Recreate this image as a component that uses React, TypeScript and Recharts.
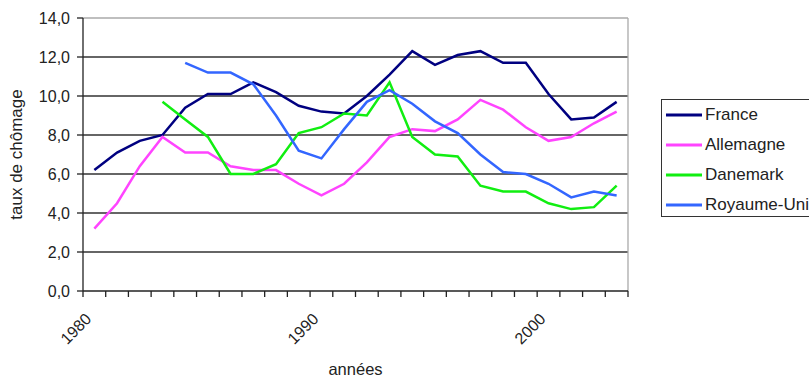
import React from 'react';
import { LineChart, Line, XAxis, YAxis, CartesianGrid, ReferenceLine, Legend } from 'recharts';

const years = [1980, 1981, 1982, 1983, 1984, 1985, 1986, 1987, 1988, 1989, 1990, 1991, 1992, 1993, 1994, 1995, 1996, 1997, 1998, 1999, 2000, 2001, 2002, 2003];
const france = [6.2, 7.1, 7.7, 8.0, 9.4, 10.1, 10.1, 10.7, 10.2, 9.5, 9.2, 9.1, 10.0, 11.1, 12.3, 11.6, 12.1, 12.3, 11.7, 11.7, 10.1, 8.8, 8.9, 9.7];
const allemagne = [3.2, 4.5, 6.4, 7.9, 7.1, 7.1, 6.4, 6.2, 6.2, 5.5, 4.9, 5.5, 6.6, 7.9, 8.3, 8.2, 8.8, 9.8, 9.3, 8.4, 7.7, 7.9, 8.6, 9.2];
const danemark = [null, null, null, 9.7, 8.8, 7.9, 6.0, 6.0, 6.5, 8.1, 8.4, 9.1, 9.0, 10.7, 7.9, 7.0, 6.9, 5.4, 5.1, 5.1, 4.5, 4.2, 4.3, 5.4];
const royaumeUni = [null, null, null, null, 11.7, 11.2, 11.2, 10.6, 9.0, 7.2, 6.8, 8.3, 9.7, 10.3, 9.6, 8.7, 8.1, 7.0, 6.1, 6.0, 5.5, 4.8, 5.1, 4.9];

const seriesNames = ['France', 'Allemagne', 'Danemark', 'Royaume-Uni'];
const yTicks = [0, 2, 4, 6, 8, 10, 12, 14];
const gridValues = [2, 4, 6, 8, 10, 12];
const labeledYears = [1980, 1990, 2000];

const FONT = '"Liberation Sans", Arial, sans-serif';

const data = years.map((year, i) => ({
  x: i,
  year,
  france: france[i],
  allemagne: allemagne[i],
  danemark: danemark[i],
  royaumeUni: royaumeUni[i],
}));

const xTicks = [...years.map((_, i) => i - 0.5), years.length - 0.5];

const XTick = (props: any) => {
  const { x, y, payload } = props;
  const idx = Math.round(payload.value + 0.5);
  const year = years[idx];
  if (!labeledYears.includes(year)) return <g />;
  const w = typeof props.width === 'number' ? props.width : 545;
  const cx = x + w / (2 * years.length) - 2;
  const cy = y + 21;
  return (
    <text x={cx} y={cy} textAnchor="end" fontSize={16} fontFamily={FONT} fill="#222" transform={`rotate(-45 ${cx} ${cy})`}>
      {year}
    </text>
  );
};

const YTick = (props: any) => {
  const { x, y, payload } = props;
  return (
    <text x={x} y={y} dy={5.5} textAnchor="end" fontSize={16} fontFamily={FONT} fill="#222">
      {payload.value.toFixed(1).replace('.', ',')}
    </text>
  );
};

const YTitle = (props: any) => {
  const vb = props.viewBox || { x: 0, y: 18, width: 83, height: 273 };
  const cx = vb.x + 21.5;
  const cy = vb.y + vb.height / 2;
  return (
    <text x={cx} y={cy} textAnchor="middle" fontSize={17} fontFamily={FONT} fill="#222" transform={`rotate(-90 ${cx} ${cy})`}>
      taux de chômage
    </text>
  );
};

const XTitle = (props: any) => {
  const vb = props.viewBox || { x: 83, y: 291, width: 545, height: 88 };
  const cx = vb.x + vb.width / 2;
  return (
    <text x={cx} y={vb.y + 84} textAnchor="middle" fontSize={16.5} fontFamily={FONT} fill="#222">
      années
    </text>
  );
};

const renderLegend = (props: any) => {
  const payload = [...(props.payload || [])].sort(
    (a: any, b: any) => seriesNames.indexOf(a.value) - seriesNames.indexOf(b.value)
  );
  return (
    <div style={{ border: '1px solid #333', background: '#fff', width: 160, height: 118, boxSizing: 'border-box', fontFamily: FONT, fontSize: 17, color: '#222' }}>
      {payload.map((entry: any) => (
        <div key={entry.value} style={{ display: 'flex', alignItems: 'center', height: 30, paddingLeft: 4 }}>
          <svg width={36} height={4} style={{ marginRight: 3 }}>
            <line x1={0} y1={2} x2={36} y2={2} stroke={entry.color} strokeWidth={3} />
          </svg>
          <span style={{ whiteSpace: 'nowrap' }}>{entry.value}</span>
        </div>
      ))}
    </div>
  );
};

export default function App() {
  return (
    <div style={{ position: 'absolute', left: 0, top: 0, width: 809, height: 379, background: '#fff', overflow: 'hidden' }}>
      <LineChart width={809} height={379} data={data} margin={{ top: 18, right: 181, bottom: 0, left: 0 }}>
        <CartesianGrid vertical={false} horizontalValues={gridValues} stroke="#333" strokeWidth={1.3} />
        <ReferenceLine y={14} stroke="#aaa" strokeWidth={1.3} />
        <ReferenceLine x={years.length - 0.5} stroke="#aaa" strokeWidth={1.3} />
        <XAxis
          type="number"
          dataKey="x"
          domain={[-0.5, years.length - 0.5]}
          ticks={xTicks}
          interval={0}
          height={88}
          tickSize={6}
          tickMargin={2}
          axisLine={{ stroke: '#222', strokeWidth: 1.3 }}
          tickLine={{ stroke: '#222', strokeWidth: 1.3 }}
          tick={(p: any) => <XTick {...p} />}
          label={(p: any) => <XTitle {...p} />}
        />
        <YAxis
          type="number"
          domain={[0, 14]}
          ticks={yTicks}
          interval={0}
          width={83}
          tickSize={6}
          tickMargin={7}
          axisLine={{ stroke: '#222', strokeWidth: 1.3 }}
          tickLine={{ stroke: '#222', strokeWidth: 1.3 }}
          tick={(p: any) => <YTick {...p} />}
          label={(p: any) => <YTitle {...p} />}
        />
        <Legend
          layout="horizontal"
          verticalAlign="middle"
          align="center"
          content={renderLegend}
          wrapperStyle={{ position: 'absolute', left: 661, top: 99, width: 160, height: 118 }}
        />
        <Line type="linear" dataKey="france" name="France" stroke="#000080" strokeWidth={2.5} dot={false} isAnimationActive={false} />
        <Line type="linear" dataKey="allemagne" name="Allemagne" stroke="#FF44FF" strokeWidth={2.5} dot={false} isAnimationActive={false} />
        <Line type="linear" dataKey="danemark" name="Danemark" stroke="#11EE11" strokeWidth={2.5} dot={false} isAnimationActive={false} />
        <Line type="linear" dataKey="royaumeUni" name="Royaume-Uni" stroke="#3366FF" strokeWidth={2.5} dot={false} isAnimationActive={false} />
      </LineChart>
    </div>
  );
}
